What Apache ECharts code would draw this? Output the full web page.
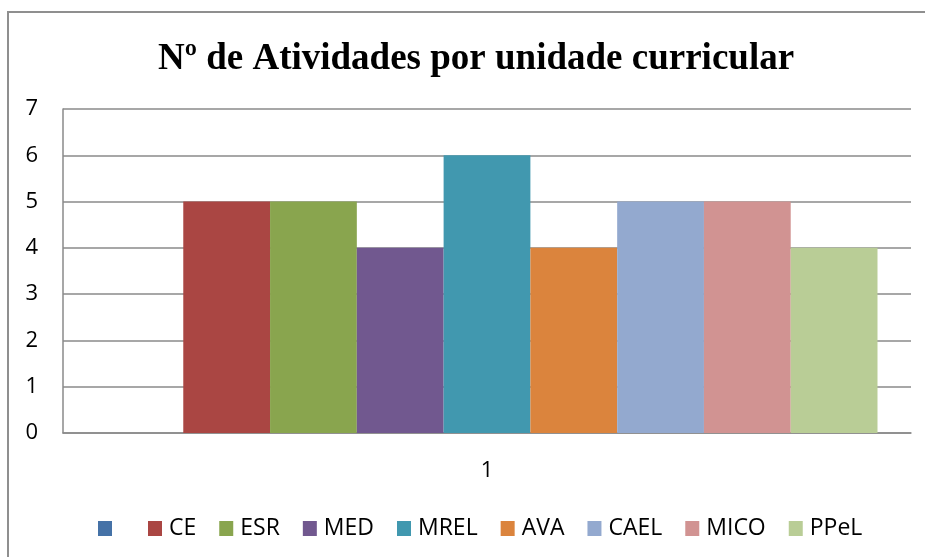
<!DOCTYPE html>
<html>
<head>
<meta charset="utf-8">
<script src="https://cdn.jsdelivr.net/npm/echarts@6/dist/echarts.min.js"></script>
<style>html,body{margin:0;padding:0;background:#fff}#c{width:925px;height:557px}</style>
</head>
<body>
<div id="c"></div>
<script>
const titleText = 'Nº de Atividades por unidade curricular';
const categories = ['1'];
const seriesNames = [' ', 'CE', 'ESR', 'MED', 'MREL', 'AVA', 'CAEL', 'MICO', 'PPeL'];
const seriesValues = [0, 5, 5, 4, 6, 4, 5, 5, 4];
const seriesColors = ['#4572A7', '#AA4643', '#89A54E', '#71588F', '#4198AF', '#DB843D', '#93A9CF', '#D19392', '#B9CD96'];
const yMin = 0, yMax = 7, yInterval = 1;

const chart = echarts.init(document.getElementById('c'), null, {renderer: 'canvas'});
const font = '"Open Sans", "Noto Sans", sans-serif';
chart.setOption({
  animation: false,
  backgroundColor: '#fff',
  graphic: [{
    type: 'rect', shape: {x: 8, y: 12, width: 1000, height: 1000},
    style: {fill: 'none', stroke: '#8f8f8f', lineWidth: 2}, silent: true, z: -1
  }],
  title: {
    text: titleText, left: 153, top: 36,
    textStyle: {fontFamily: '"Liberation Serif", "Times New Roman", serif', fontWeight: 'bold', fontSize: 37, color: '#000'}
  },
  color: seriesColors,
  legend: {
    left: 93, top: 512, itemWidth: 14, itemHeight: 15, itemGap: 23,
    icon: 'rect',
    data: seriesNames,
    textStyle: {fontFamily: font, fontSize: 23, color: '#000', padding: [0, 0, 0, 2]}
  },
  grid: {left: 63, right: 14, top: 109, bottom: 124, containLabel: false},
  xAxis: {
    type: 'category', data: categories,
    axisLine: {lineStyle: {color: '#8a8a8a', width: 1.5}},
    axisTick: {show: false},
    axisLabel: {fontFamily: font, fontSize: 22, color: '#000', margin: 27}
  },
  yAxis: {
    type: 'value', min: yMin, max: yMax, interval: yInterval,
    axisLine: {show: true, lineStyle: {color: '#8a8a8a', width: 1.5}},
    axisTick: {show: false},
    splitLine: {lineStyle: {color: '#8a8a8a', width: 1.5}},
    axisLabel: {fontFamily: font, fontSize: 22, color: '#000', margin: 25}
  },
  series: seriesNames.map((n, i) => ({
    name: n, type: 'bar', data: [seriesValues[i]],
    barGap: '0%', barCategoryGap: '7.9%',
    itemStyle: {color: seriesColors[i]}
  }))
});
</script>
</body>
</html>
